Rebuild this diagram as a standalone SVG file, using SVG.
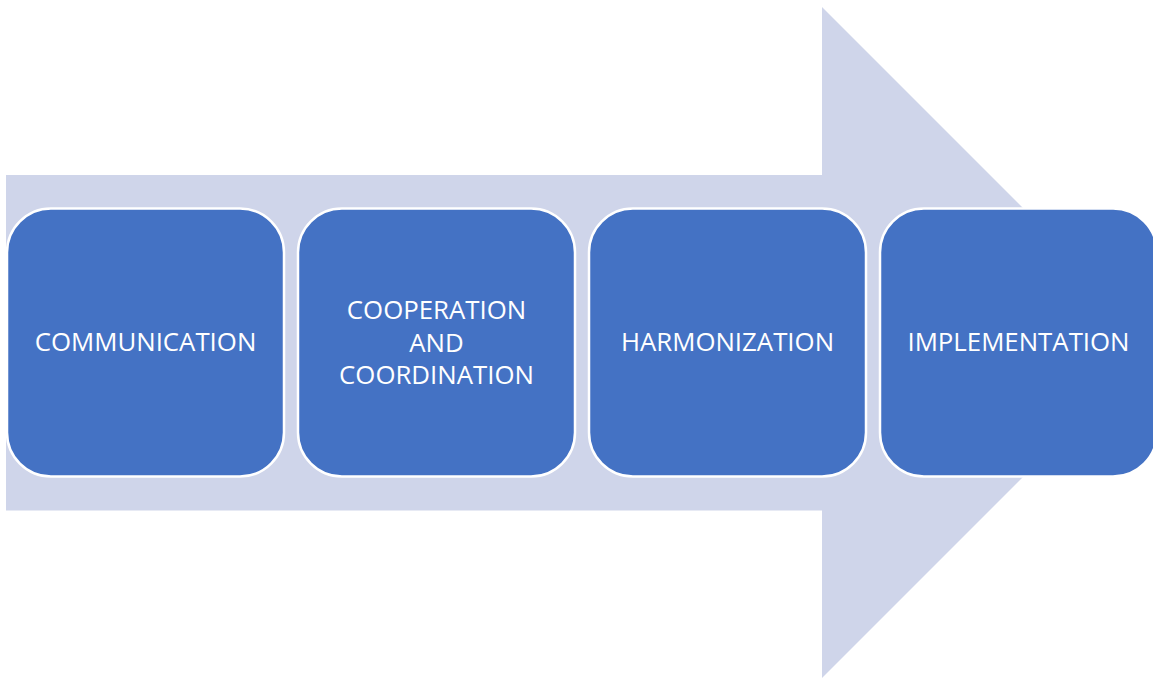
<svg xmlns="http://www.w3.org/2000/svg" width="1153" height="678" viewBox="0 0 1153 678">
<style>
.box{fill:#4472C4;stroke:#FFFFFF;stroke-width:2.5}
.lbl{fill:#FFFFFF;font-family:"Open Sans","Liberation Sans",sans-serif;font-size:25.8px;text-anchor:middle}
</style>
<rect width="1153" height="678" fill="#FFFFFF"/>
<g id="arrow">
<polygon points="6,175 822,175 822,7 1157.5,342.5 822,678 822,510.5 6,510.5" fill="#CFD5EA"/>
</g>
<g id="node1">
<rect class="box" x="7" y="208.5" width="277" height="268" rx="44" ry="44"/>
<text class="lbl" x="145.5" y="351">COMMUNICATION</text>
</g>
<g id="node2">
<rect class="box" x="298" y="208.5" width="277" height="268" rx="44" ry="44"/>
<text class="lbl" x="436.5" y="319">COOPERATION</text>
<text class="lbl" x="436.5" y="351.5">AND</text>
<text class="lbl" x="436.5" y="384">COORDINATION</text>
</g>
<g id="node3">
<rect class="box" x="589" y="208.5" width="277" height="268" rx="44" ry="44"/>
<text class="lbl" x="727.5" y="351">HARMONIZATION</text>
</g>
<g id="node4">
<rect class="box" x="880" y="208.5" width="277" height="268" rx="44" ry="44"/>
<text class="lbl" x="1018.5" y="351">IMPLEMENTATION</text>
</g>
<g id="connectors"/>
</svg>
